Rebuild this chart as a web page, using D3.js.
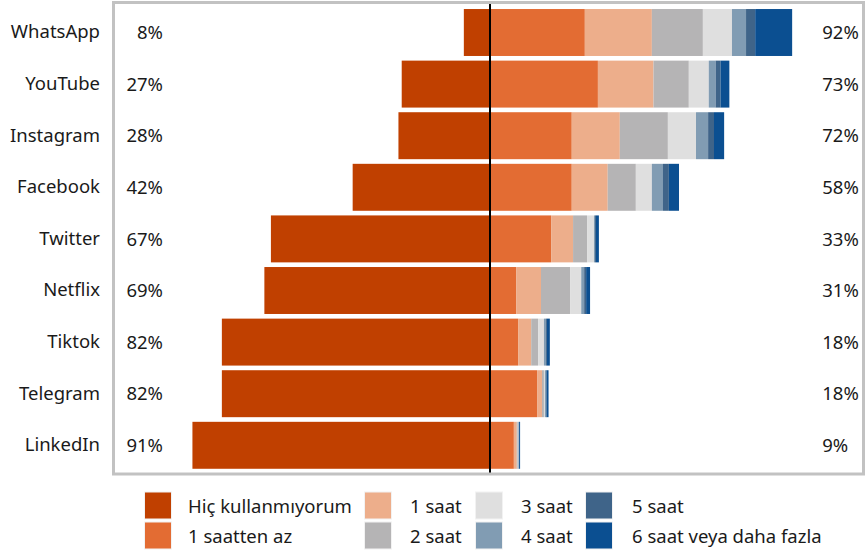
<!DOCTYPE html>
<html><head><meta charset="utf-8">
<script src="https://cdn.jsdelivr.net/npm/d3@7"></script>
<style>body{margin:0;background:#fff;}svg{display:block;font-family:"Noto Sans",sans-serif;}</style>
</head><body><svg id="c" width="865" height="556"></svg>
<script>
const categories = ["WhatsApp","YouTube","Instagram","Facebook","Twitter","Netflix","Tiktok","Telegram","LinkedIn"];
const seriesNames = ["Hiç kullanmıyorum","1 saatten az","1 saat","2 saat","3 saat","4 saat","5 saat","6 saat veya daha fazla"];
const hic  = [8,27,28,42,67,69,82,82,91];
const lt1  = [29,33,25,25,18.7,8,8.6,14.4,7.3];
const s1   = [20.5,17,14.7,11,6.7,7.6,4,1.5,0.9];
const s2   = [15.6,10.8,14.7,8.6,4.3,8.9,2.1,0.6,0.3];
const s3   = [8.9,6.1,8.6,4.9,2.1,3.4,1.8,0.3,0.2];
const s4   = [4.3,2.1,3.7,3.4,0.3,0.9,0.6,0.3,0.1];
const s5   = [2.8,1.5,1.8,1.8,0.3,0.6,0.3,0.2,0.1];
const s6   = [11.3,2.7,3.1,3.1,0.9,1.2,0.9,0.6,0.3];
const leftPct  = [8,27,28,42,67,69,82,82,91];
const rightPct = [92,73,72,58,33,31,18,18,9];
const colors = ["#c04000","#e36c33","#edae8b","#b5b4b5","#dfdfdf","#819cb3","#3f6489","#0b4f91"];

const svg = d3.select("#c");
const x = d3.scaleLinear().domain([-100,100]).range([490-327, 490+327]);
const y = d3.scaleBand().domain(categories).range([6.7, 471.1]).paddingInner(0.09).paddingOuter(0.045);
const txt = "#1a1a1a";
const fs = 18.5;

const rightSeries = [lt1,s1,s2,s3,s4,s5,s6];
const g = svg.append("g");
g.selectAll("rect.hic").data(categories).join("rect")
  .attr("x",(d,i)=>x(-hic[i])).attr("width",(d,i)=>x(0)-x(-hic[i]))
  .attr("y",d=>y(d)).attr("height",y.bandwidth()).attr("fill",colors[0]);
categories.forEach((c,i)=>{
  let acc = 0;
  rightSeries.forEach((s,k)=>{
    g.append("rect").attr("x",x(acc)).attr("width",x(acc+s[i])-x(acc))
      .attr("y",y(c)).attr("height",y.bandwidth()).attr("fill",colors[k+1]);
    acc += s[i];
  });
});
svg.append("line").attr("x1",x(0)).attr("x2",x(0)).attr("y1",3).attr("y2",474)
  .attr("stroke","#000").attr("stroke-width",2);
svg.append("rect").attr("x",113.5).attr("y",2.5).attr("width",750).attr("height",471.5)
  .attr("fill","none").attr("stroke","#c2c2c2").attr("stroke-width",3);
svg.selectAll("text.lp").data(categories).join("text")
  .attr("x",x(-100)).attr("y",d=>y(d)+y.bandwidth()/2).attr("dy","0.36em")
  .attr("text-anchor","end").attr("font-size",fs).attr("fill",txt)
  .text((d,i)=>leftPct[i]+"%");
svg.selectAll("text.rp").data(categories).join("text")
  .attr("x",x(101.6)).attr("y",d=>y(d)+y.bandwidth()/2).attr("dy","0.36em")
  .attr("text-anchor","start").attr("font-size",fs).attr("fill",txt)
  .text((d,i)=>rightPct[i]+"%");
const ax = svg.append("g").attr("transform","translate(113,0)").call(d3.axisLeft(y).tickSize(0).tickPadding(13));
ax.select(".domain").remove();
ax.selectAll("text").attr("font-size",fs).attr("fill",txt).attr("font-family","Noto Sans, sans-serif");
const legCols = [[145,188],[365,410],[476,521],[586,632]];
const legRows = [492,522];
seriesNames.forEach((n,k)=>{
  const col = Math.floor(k/2), row = k%2;
  const [kx,tx] = legCols[col];
  svg.append("rect").attr("x",kx-1).attr("y",legRows[row]-0.5).attr("width",28).attr("height",28)
    .attr("fill","#f2f2f2");
  svg.append("rect").attr("x",kx).attr("y",legRows[row]+0.5).attr("width",26).attr("height",26)
    .attr("fill",colors[k]);
  svg.append("text").attr("x",tx).attr("y",legRows[row]+14).attr("dy","0.36em")
    .attr("font-size",fs).attr("fill",txt).text(n);
});
</script></body></html>
